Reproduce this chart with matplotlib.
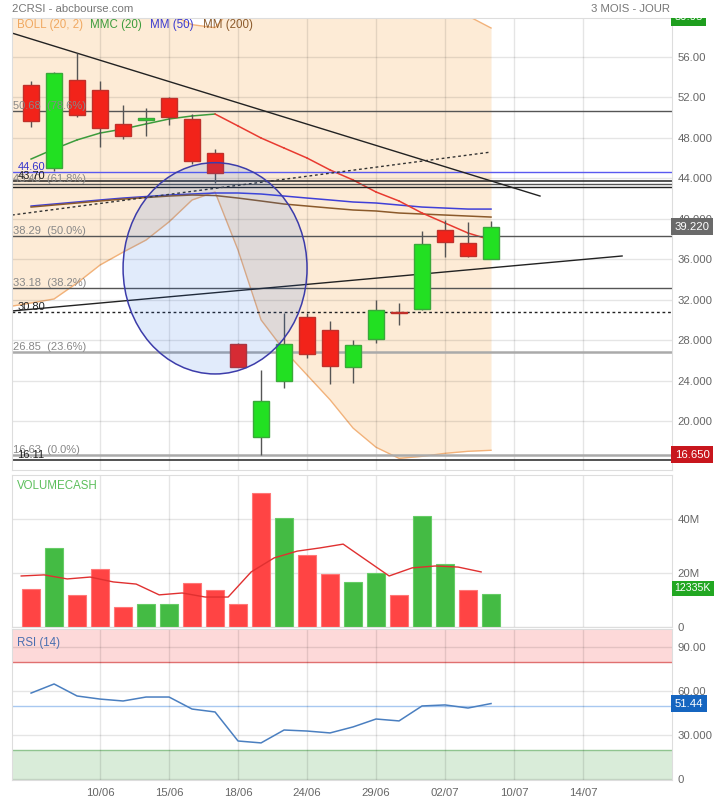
import matplotlib
matplotlib.use("Agg")
import numpy as np
import matplotlib.pyplot as plt
from matplotlib.patches import Ellipse
from matplotlib.transforms import Bbox, TransformedBbox

plt.rcParams["font.family"] = ["Liberation Sans", "DejaVu Sans"]

# ---- daily candles (21 sessions) ----
opens = [53.23, 45.02, 53.73, 52.74, 49.38, 49.82, 51.95, 49.87, 46.51, 27.61, 18.42,
         23.95, 30.29, 29.00, 25.34, 28.11, 30.75, 31.08, 38.89, 37.60, 36.02]
highs = [53.63, 54.50, 56.40, 53.63, 51.25, 50.96, 52.05, 50.36, 46.90, 27.70, 25.04,
         30.68, 30.70, 29.89, 28.00, 31.97, 31.67, 38.79, 39.88, 39.68, 39.80]
lows = [49.08, 44.70, 50.07, 47.10, 47.89, 48.19, 49.28, 45.42, 43.54, 25.30, 16.65,
        23.26, 26.20, 23.66, 23.76, 27.70, 29.50, 31.00, 36.22, 36.20, 36.00]
closes = [49.67, 54.42, 50.27, 48.98, 48.19, 49.92, 50.07, 45.72, 44.53, 25.34, 21.98,
          27.61, 26.62, 25.44, 27.52, 30.98, 30.65, 37.51, 37.70, 36.32, 39.22]

# bollinger (20, 2), first value is the session before the window
boll_up = [63.0, 63.5, 64.5, 65.0, 64.5, 63.5, 62.0, 60.3, 59.2, 58.9, 61.5, 64.0,
           65.0, 66.0, 66.0, 65.5, 64.0, 63.0, 62.0, 61.0, 60.06, 58.87]
boll_low = [31.3, 31.67, 32.07, 33.65, 35.43, 36.70, 37.90, 39.70, 41.86, 42.65, 36.90, 30.00,
            27.00, 24.55, 22.10, 19.30, 17.40, 16.30, 16.50, 16.80, 17.00, 17.10]

mmc20 = [45.91, 46.90, 47.80, 48.48, 48.88, 49.38, 49.87, 50.17, 50.36, 49.18, 47.99,
         47.00, 46.01, 44.83, 43.84, 42.65, 41.76, 40.57, 39.58, 38.59, 37.90]
mm50 = [41.26, 41.46, 41.66, 41.86, 42.05, 42.20, 42.35, 42.45, 42.55, 42.55, 42.45,
        42.25, 42.05, 41.86, 41.66, 41.56, 41.36, 41.16, 41.06, 40.96, 40.96]
mm200 = [41.16, 41.36, 41.56, 41.76, 41.95, 42.10, 42.25, 42.35, 42.30, 42.05, 41.76,
         41.46, 41.26, 41.06, 40.87, 40.77, 40.57, 40.47, 40.37, 40.27, 40.17]

# volume cash, millions
volumes = [14.1, 29.3, 11.9, 21.5, 7.4, 8.5, 8.5, 16.3, 13.7, 8.5, 49.6,
           40.4, 26.7, 19.6, 16.7, 20.0, 11.9, 41.1, 23.3, 13.7, 12.335]
vol_ma = [18.9, 19.3, 17.8, 18.5, 16.7, 15.9, 11.9, 12.6, 11.1, 11.1, 20.4,
          25.6, 28.1, 29.3, 30.7, 24.8, 18.9, 21.9, 22.6, 22.2, 20.4]

rsi = [58.6, 64.8, 56.6, 54.5, 53.2, 55.9, 55.9, 47.7, 45.7, 25.9, 24.6,
       33.4, 32.7, 31.4, 35.5, 40.9, 39.6, 49.8, 50.5, 48.4, 51.44]

date_pos = [3, 6, 9, 12, 15, 18, 21, 24]
date_labels = ["10/06", "15/06", "18/06", "24/06", "29/06", "02/07", "10/07", "14/07"]

price_ticks = [56, 52, 48, 44, 40, 36, 32, 28, 24, 20]
price_tick_labels = ["56.00", "52.00", "48.000", "44.000", "40.000", "36.000",
                     "32.000", "28.000", "24.000", "20.000"]
vol_ticks = [0, 20, 40]
vol_tick_labels = ["0", "20M", "40M"]
rsi_ticks = [0, 30, 60, 90]
rsi_tick_labels = ["0", "30.000", "60.00", "90.00"]

# fibonacci retracement 16.63 -> 59.95
fib_levels = [50.68, 43.40, 38.29, 33.18, 26.85, 16.63]
fib_pcts = ["78.6%", "61.8%", "50.0%", "38.2%", "23.6%", "0.0%"]
fib_top = 59.95

# other drawn levels and objects
level_blue = 44.60
level_black = [43.70, 16.11]
level_plain = 43.13
level_dotted = 30.80
trend_lines = [(-0.83, 58.37, 22.13, 42.25), (-0.83, 30.88, 25.7, 36.32)]
trend_dotted = (-0.83, 40.37, 20.0, 46.6)
circle = (8.0, 35.1, 8.0, 20.9)

last_price = 39.22
period_low = 16.65

# ---- figure ----
W, H = 714, 800
fig = plt.figure(figsize=(W / 100, H / 100), dpi=100)


def rect(x0, y0, x1, y1):
    return [x0 / W, 1 - y1 / H, (x1 - x0) / W, (y1 - y0) / H]


ax = fig.add_axes(rect(12, 18, 672, 470))
axv = fig.add_axes(rect(12, 475, 672, 627))
axr = fig.add_axes(rect(12, 629, 672, 780))

idx = np.arange(len(opens))
band_idx = np.arange(-1, len(opens))
xlim = (-0.83, 27.87)
grey = "#666666"
fs = 8

for a in (ax, axv, axr):
    a.set_xlim(*xlim)
    a.set_xticks(date_pos)
    a.grid(True, color="black", alpha=0.1, lw=1)
    a.yaxis.tick_right()
    a.tick_params(length=0, labelsize=8.2, labelcolor=grey, pad=4)
    for s in a.spines.values():
        s.set_color("#dddddd")
ax.set_xticklabels([])
axv.set_xticklabels([])
axr.set_xticklabels(date_labels)
axr.tick_params(axis="x", pad=6)

# ---- price panel ----
ax.set_ylim(15.15, 59.86)
ax.set_yticks(price_ticks)
ax.set_yticklabels(price_tick_labels)

ax.fill_between(band_idx, boll_low, boll_up, color="#fdebd6", lw=0, zorder=0.5)
ax.plot(band_idx, boll_up, color="#f2b27a", lw=1, zorder=1)
ax.plot(band_idx, boll_low, color="#f2b27a", lw=1, zorder=1)

ax.plot(idx, mm50, color="#4040d8", lw=1.1, zorder=2)
ax.plot(idx, mm200, color="#8b5a2b", lw=1.1, zorder=2)
for i in range(len(mmc20) - 1):
    col = "#3c9c3c" if mmc20[i + 1] >= mmc20[i] else "#e83a30"
    ax.plot(idx[i:i + 2], mmc20[i:i + 2], color=col, lw=1.1, zorder=2)

# horizontal levels
for lv, pct in zip(fib_levels, fib_pcts):
    thick = pct in ("23.6%", "0.0%")
    ax.axhline(lv, color="#aaaaaa" if thick else "#555555", lw=1.8 if thick else 1, zorder=2)
    ax.text(-0.8, lv, f"{lv:.2f}  ({pct})", color="#888888", fontsize=fs, va="bottom", zorder=5)
ax.axhline(level_blue, color="#5a5af0", lw=1, zorder=2)
ax.text(-0.6, level_blue, f"{level_blue:.2f}", color="#3333cc", fontsize=fs, va="bottom", zorder=5)
for lv in level_black:
    ax.axhline(lv, color="#222222", lw=1.1, zorder=2)
    ax.text(-0.6, lv, f"{lv:.2f}", color="#222222", fontsize=fs, va="bottom", zorder=5)
ax.axhline(level_plain, color="#222222", lw=1, zorder=2)
ax.axhline(level_dotted, color="#222222", lw=1, ls=(0, (2, 2)), zorder=2)
ax.text(-0.6, level_dotted, f"{level_dotted:.2f}", color="#222222", fontsize=fs, va="bottom", zorder=5)

for x0, y0, x1, y1 in trend_lines:
    ax.plot([x0, x1], [y0, y1], color="#222222", lw=1, zorder=2)
x0, y0, x1, y1 = trend_dotted
ax.plot([x0, x1], [y0, y1], color="#333333", lw=1, ls=(0, (2, 2)), zorder=2)

# candles
up = np.array(closes) >= np.array(opens)
ax.vlines(idx, lows, highs, color="#555555", lw=1, zorder=3)
body_lo = np.minimum(opens, closes)
body_h = np.maximum(np.abs(np.array(closes) - np.array(opens)), 0.12)
ax.bar(idx, body_h, bottom=body_lo, width=0.72,
       color=np.where(up, "#22e022", "#f2231a"),
       edgecolor=np.where(up, "#3aa83a", "#c0302a"), lw=1, zorder=3)

cx, cy, cw, ch = circle
ax.add_patch(Ellipse((cx, cy), cw, ch, facecolor=(0.1, 0.4, 0.9, 0.13),
                     edgecolor="#3c3caa", lw=1.1, zorder=4))

# right side price boxes
ytr = ax.get_yaxis_transform()
box_kw = dict(color="white", fontsize=8.2, va="center")
clip = TransformedBbox(Bbox([[0.9, 0.0], [1.0, 1 - 18 / H]]), fig.transFigure)
t = fig.text(1.004, fib_top, f"{fib_top:.2f}", transform=ytr, **box_kw,
             bbox=dict(boxstyle="square,pad=0.3", fc="#1e9e1e", ec="none"))
t.set_clip_box(clip)
t.set_clip_on(True)
fig.text(1.004, last_price, f"{last_price:.3f}", transform=ytr, **box_kw,
         bbox=dict(boxstyle="square,pad=0.3", fc="#6a6a6a", ec="none"))
fig.text(1.004, period_low, f"{period_low:.3f}", transform=ytr, **box_kw,
         bbox=dict(boxstyle="square,pad=0.3", fc="#c8161d", ec="none"))

# legend line
legend = [("BOLL (20, 2)", "#f0a860", 17), ("MMC (20)", "#3c9c3c", 90),
          ("MM (50)", "#3a3ad0", 150), ("MM (200)", "#8b5a2b", 203)]
for txt, col, xp in legend:
    fig.text(xp / W, 1 - 25 / H, txt, color=col, fontsize=8.3, va="center")

# ---- volume panel ----
axv.set_ylim(0, 56.3)
axv.set_yticks(vol_ticks)
axv.set_yticklabels(vol_tick_labels)
vol_up = np.diff(closes, prepend=opens[0]) >= 0
axv.bar(idx, volumes, width=0.81, color=np.where(vol_up, "#44bb44", "#ff4444"),
        edgecolor=np.where(vol_up, "#66cc66", "#ff7777"), lw=0.8, zorder=2)
axv.plot(idx - 0.43, vol_ma, color="#e03030", lw=1, zorder=3)
axv.text(0.008, 0.93, "VOLUMECASH", transform=axv.transAxes, color="#5cbf5c",
         fontsize=8.3, va="center")
fig.text(1.004, volumes[-1] + 2, f"{volumes[-1] * 1000:.0f}K", transform=axv.get_yaxis_transform(),
         color="white", fontsize=7.6, va="center",
         bbox=dict(boxstyle="square,pad=0.25", fc="#22a722", ec="none"))

# ---- RSI panel ----
axr.set_ylim(-0.7, 102.3)
axr.set_yticks(rsi_ticks)
axr.set_yticklabels(rsi_tick_labels)
axr.axhspan(80, 102.3, color="#fdd9d9", lw=0, zorder=0.5)
axr.axhspan(-0.7, 20, color="#d9ecd9", lw=0, zorder=0.5)
axr.axhline(80, color="#e07070", lw=1, zorder=1)
axr.axhline(20, color="#90c490", lw=1, zorder=1)
axr.axhline(50, color="#a8c8f0", lw=1, zorder=1)
axr.plot(idx, rsi, color="#4a7fc0", lw=1.1, zorder=3)
axr.text(0.008, 0.91, "RSI (14)", transform=axr.transAxes, color="#4a6fb0",
         fontsize=8.3, va="center")
fig.text(1.004, rsi[-1], f"{rsi[-1]:.2f}", transform=axr.get_yaxis_transform(), **box_kw,
         bbox=dict(boxstyle="square,pad=0.3", fc="#1565c0", ec="none"))

# header
fig.text(12 / W, 1 - 9 / H, "2CRSI - abcbourse.com", color="#777777", fontsize=8.2, va="center")
fig.text(670 / W, 1 - 9 / H, "3 MOIS - JOUR", color="#777777", fontsize=8.2, va="center", ha="right")

fig.savefig("out.png", dpi=100)
